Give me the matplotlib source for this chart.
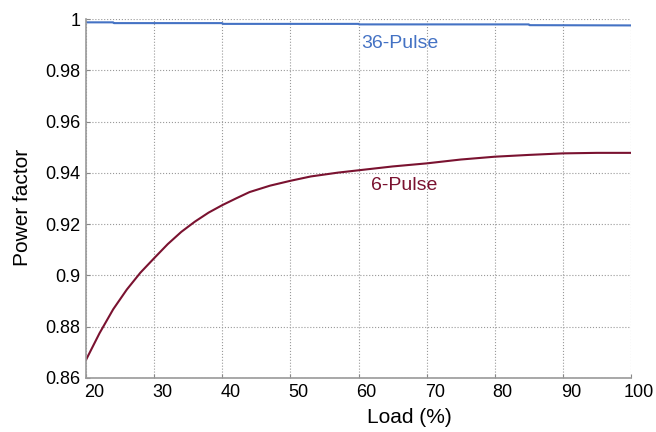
import matplotlib
matplotlib.use('Agg')
import matplotlib.pyplot as plt
import matplotlib.transforms as mtransforms

plt.rcParams['font.family'] = ['Liberation Sans', 'DejaVu Sans']

# 6-pulse power factor vs load
load_6 = [20, 22, 24, 26, 28, 30, 32, 34, 36, 38, 40, 42, 44, 47, 50, 53, 57, 60, 65, 70, 75, 80, 85, 90, 95, 100]
pf_6 = [0.867, 0.8775, 0.8868, 0.8945, 0.9011, 0.9067, 0.9122, 0.917, 0.921, 0.9245, 0.9274, 0.930, 0.9325, 0.935,
        0.9369, 0.9386, 0.9401, 0.941, 0.9425, 0.9437, 0.9452, 0.9463, 0.947, 0.9476, 0.9478, 0.9478]

# 36-pulse power factor vs load
load_36 = [20, 24, 24.1, 40, 40.1, 60, 60.1, 85, 85.1, 100]
pf_36 = [0.9987, 0.9987, 0.9984, 0.9984, 0.9981, 0.9981, 0.9979, 0.9979, 0.9976, 0.9975]

xticks = [20, 30, 40, 50, 60, 70, 80, 90, 100]
yticks = [0.86, 0.88, 0.9, 0.92, 0.94, 0.96, 0.98, 1.0]
ytick_labels = ['0.86', '0.88', '0.9', '0.92', '0.94', '0.96', '0.98', '1']

blue = '#4472C4'
maroon = '#7A1230'

fig = plt.figure(figsize=(6.56, 4.32), dpi=100)
ax = fig.add_axes([0.131, 0.125, 0.831, 0.831])

ax.plot(load_36, pf_36, color=blue, lw=1.5)
ax.plot(load_6, pf_6, color=maroon, lw=1.5)

ax.text(66.1, 0.9906, '36-Pulse', color=blue, fontsize=14, ha='center', va='center')
ax.text(66.7, 0.9349, '6-Pulse', color=maroon, fontsize=14, ha='center', va='center')

ax.set_xlim(20, 100)
ax.set_ylim(0.86, 1.0)
ax.set_xticks(xticks)
ax.set_yticks(yticks)
ax.set_yticklabels(ytick_labels)
ax.tick_params(direction='in', length=3, labelsize=13, color='#888888', pad=4)
ax.grid(which='major', color='#999999', linestyle=':', lw=0.8)

# x tick labels sit a little right of their ticks in the reference
offset = mtransforms.ScaledTranslation(8 / 100, 0, fig.dpi_scale_trans)
for lab in ax.get_xticklabels():
  lab.set_transform(lab.get_transform() + offset)

for s in ['top', 'right']:
  ax.spines[s].set_visible(False)
for s in ['left', 'bottom']:
  ax.spines[s].set_color('#999999')
  ax.spines[s].set_linewidth(1.2)

ax.set_xlabel('Load (%)', fontsize=15, va='center')
ax.xaxis.set_label_coords(0.594, -0.111)
ax.set_ylabel('Power factor', fontsize=15, va='center')
ax.yaxis.set_label_coords(-0.1156, 0.476)

plt.savefig('out.png', dpi=100)
plt.close()
